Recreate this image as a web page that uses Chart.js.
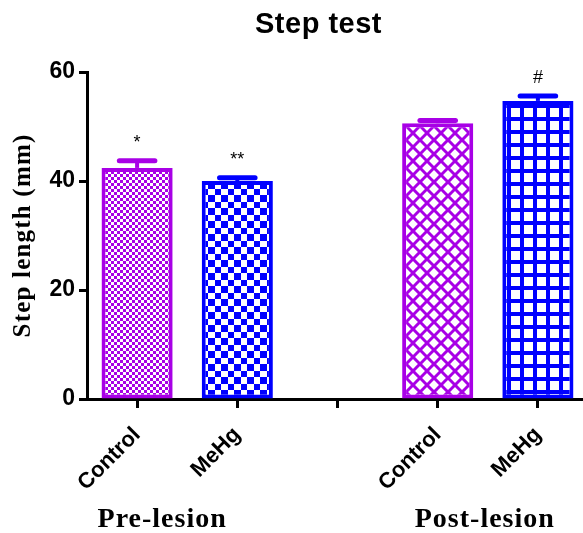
<!DOCTYPE html>
<html>
<head>
<meta charset="utf-8">
<script src="https://cdn.jsdelivr.net/npm/chart.js@4.4.0/dist/chart.umd.min.js"></script>
<style>
  html, body { margin: 0; background: #fff; overflow: hidden; }
  canvas { display: block; }
</style>
</head>
<body>
<canvas id="steptest" width="588" height="533"></canvas>
<script>
// step length per group, mean and SEM (mm)
let categories = ['Control', 'MeHg', '', 'Control', 'MeHg'];
let means = [42.4, 40.0, null, 50.6, 54.7];
let sems = [1.3, 0.6, null, 0.5, 0.9];
let marks = ['*', '**', '', '', '#'];
let yTicks = [0, 20, 40, 60];
let groups = ['Pre-lesion', 'Post-lesion'];
let groupAt = [0.25, 3.47];

const PURPLE = '#a800e6';
const BLUE = '#0000ff';
const SANS = '"Liberation Sans", Arial, sans-serif';
const SERIF = '"Liberation Serif", "Times New Roman", serif';

let ctx = document.getElementById('steptest').getContext('2d');

function tile(size, paint) {
    const c = document.createElement('canvas');
    c.width = size;
    c.height = size;
    const g = c.getContext('2d');
    g.fillStyle = '#fff';
    g.fillRect(0, 0, size, size);
    paint(g, size);
    return ctx.createPattern(c, 'repeat');
}

// fine checker
let checkSmall = tile(6, (g) => {
    g.fillStyle = PURPLE;
    g.fillRect(0, 0, 3, 3);
    g.fillRect(3, 3, 3, 3);
});
// large checker
let checkBig = tile(13, (g) => {
    g.fillStyle = BLUE;
    g.fillRect(0, 0, 7, 7);
    g.fillRect(7, 7, 6, 6);
});
// diagonal lattice
let lattice = tile(14, (g, s) => {
    g.strokeStyle = PURPLE;
    g.lineWidth = 3;
    for (let k = -1; k <= 1; k++) {
        g.beginPath();
        g.moveTo(k * s, 0);
        g.lineTo(k * s + s, s);
        g.stroke();
        g.beginPath();
        g.moveTo(k * s + s, 0);
        g.lineTo(k * s, s);
        g.stroke();
    }
});
// square grid
let grid = tile(13, (g) => {
    g.fillStyle = BLUE;
    g.fillRect(0, 0, 13, 13);
    g.fillStyle = '#fff';
    g.fillRect(4, 4, 9, 9);
});

let fills = [checkSmall, checkBig, null, lattice, grid];
let edges = [PURPLE, BLUE, null, PURPLE, BLUE];

const errorBars = {
    id: 'errorBars',
    afterDatasetsDraw(chart) {
        const c = chart.ctx;
        const y = chart.scales.y;
        chart.getDatasetMeta(0).data.forEach((bar, i) => {
            if (means[i] == null) return;
            const top = y.getPixelForValue(means[i] + sems[i]);
            const half = bar.width / 4;
            c.save();
            c.strokeStyle = edges[i];
            c.lineWidth = 4;
            c.beginPath();
            c.moveTo(bar.x, bar.y);
            c.lineTo(bar.x, top);
            c.stroke();
            c.lineWidth = 5;
            c.lineCap = 'round';
            c.beginPath();
            c.moveTo(bar.x - half, top);
            c.lineTo(bar.x + half, top);
            c.stroke();
            if (marks[i]) {
                c.fillStyle = '#000';
                c.font = '18px ' + SANS;
                c.textAlign = 'center';
                c.textBaseline = 'alphabetic';
                c.fillText(marks[i], bar.x, top - 13);
            }
            c.restore();
        });
    }
};

const extraText = {
    id: 'extraText',
    afterDraw(chart) {
        const c = chart.ctx;
        const area = chart.chartArea;
        const x = chart.scales.x;
        c.save();
        c.fillStyle = '#000';
        c.textAlign = 'center';
        c.textBaseline = 'alphabetic';

        c.font = 'bold 29px ' + SANS;
        c.letterSpacing = '0.5px';
        c.fillText('Step test', (area.left + area.right) / 2 - 19, 33);

        c.font = 'bold 28px ' + SERIF;
        c.letterSpacing = '1px';
        groups.forEach((name, k) => {
            c.fillText(name, x.getPixelForValue(groupAt[k]), 527);
        });

        c.translate(30, (area.top + area.bottom) / 2);
        c.rotate(-Math.PI / 2);
        c.font = 'bold 25px ' + SERIF;
        c.letterSpacing = '1.2px';
        c.fillText('Step length (mm)', 0, 0);
        c.restore();
    }
};

let stepChart = new Chart(ctx, {
    type: 'bar',
    data: {
        labels: categories,
        datasets: [{
            data: means,
            backgroundColor: fills,
            borderColor: edges,
            borderWidth: 4,
            borderSkipped: false,
            barPercentage: 0.71,
            categoryPercentage: 1
        }]
    },
    options: {
        responsive: false,
        animation: false,
        layout: {
            padding: { top: 72, left: 0, right: 0, bottom: 0 }
        },
        plugins: {
            legend: { display: false },
            tooltip: { enabled: false },
            title: { display: false }
        },
        scales: {
            x: {
                afterFit: (scale) => { scale.height = 134; },
                grid: {
                    offset: false,
                    drawOnChartArea: false,
                    drawTicks: true,
                    tickLength: 9,
                    tickWidth: 3,
                    color: '#000'
                },
                border: { display: true, width: 3, color: '#000' },
                ticks: {
                    color: '#000',
                    minRotation: 45,
                    maxRotation: 45,
                    padding: 14,
                    font: { family: SANS, weight: 'bold', size: 22 }
                }
            },
            y: {
                min: 0,
                max: 60,
                afterFit: (scale) => { scale.width = 87; },
                afterBuildTicks: (scale) => {
                    scale.ticks = yTicks.map((v) => ({ value: v }));
                },
                grid: {
                    drawOnChartArea: false,
                    drawTicks: true,
                    tickLength: 8,
                    tickWidth: 3,
                    color: '#000'
                },
                border: { display: true, width: 3, color: '#000' },
                ticks: {
                    color: '#000',
                    padding: 4,
                    font: { family: SANS, weight: 'bold', size: 23 }
                }
            }
        }
    },
    plugins: [errorBars, extraText]
});
</script>
</body>
</html>
